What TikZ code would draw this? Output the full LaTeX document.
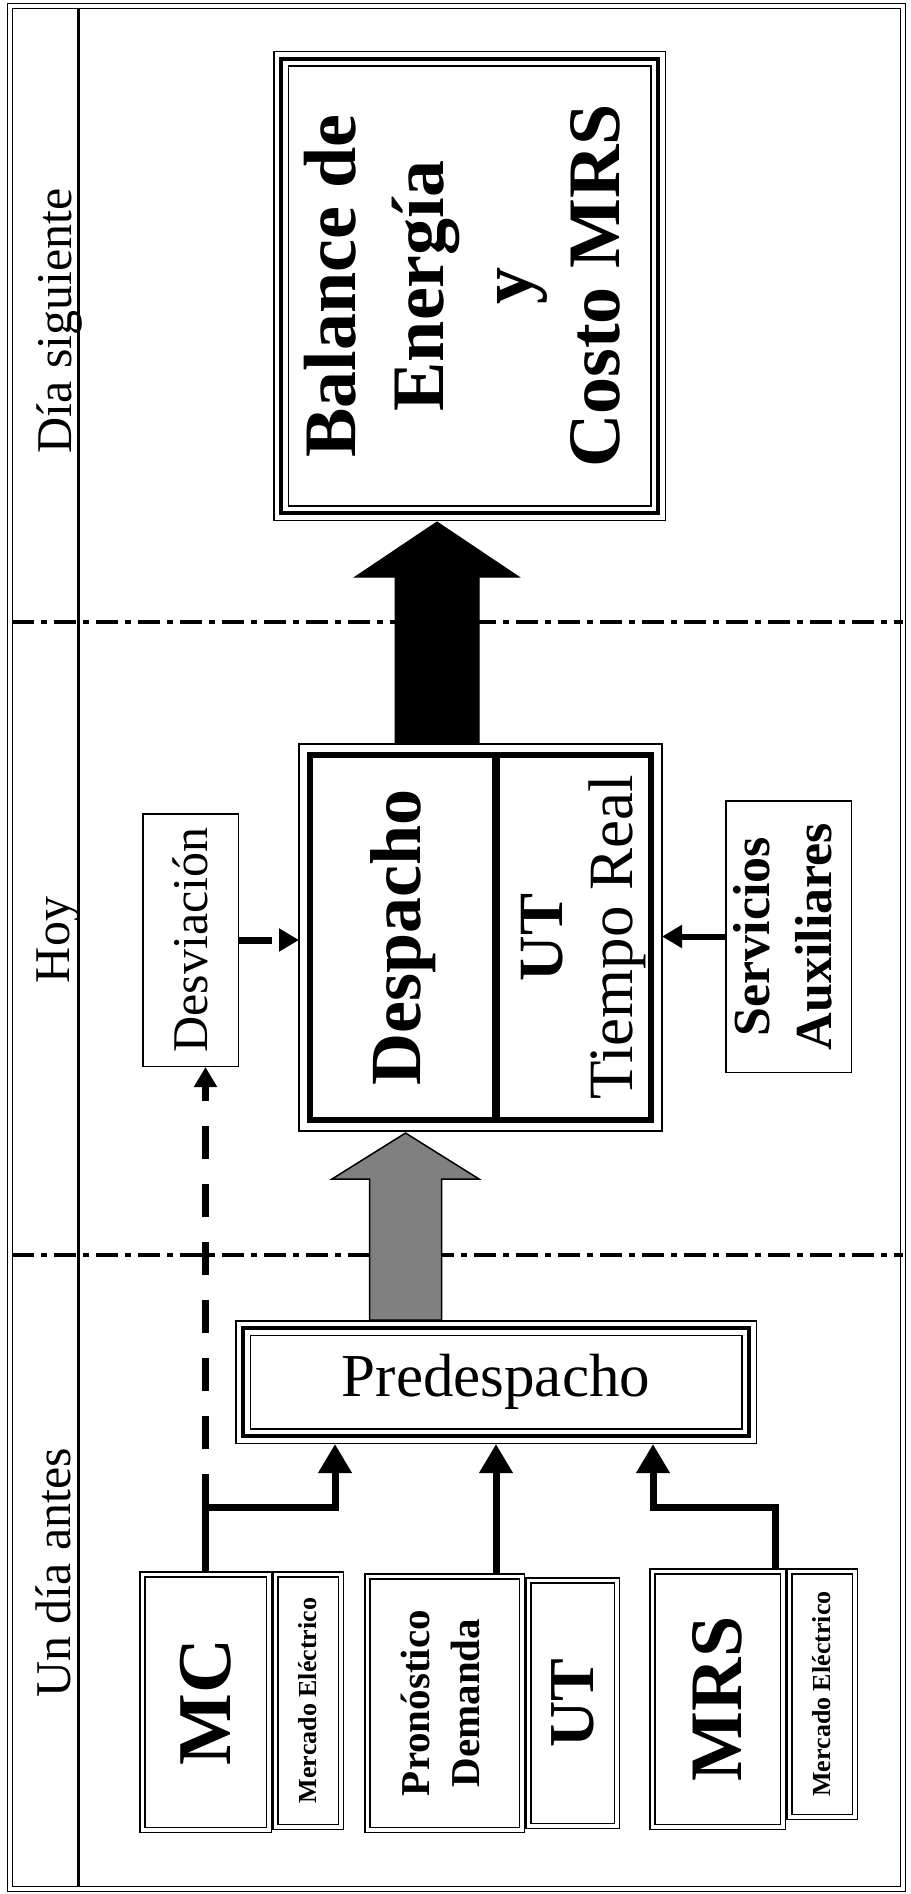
\documentclass[tikz,border=0pt]{standalone}
\usepackage{fontspec}
\setmainfont{Liberation Serif}
\usepackage{graphicx}
\usetikzlibrary{arrows.meta,calc}

\newcommand{\fsz}[2]{\fontsize{#1}{#2}\selectfont}

\begin{document}
\begin{tikzpicture}[x=1pt,y=-1pt,
  every node/.style={inner sep=0pt,align=center},
  tribox/.style={draw,line width=4.5pt,outer sep=8pt,
    preaction={draw,line width=1.5pt,double,double distance=13pt}},
  dbox/.style={draw,line width=1.5pt,double,double distance=3.5pt,outer sep=3.25pt},
  thinbox/.style={draw,line width=1.5pt,outer sep=0.75pt},
  conn/.style={line width=7pt,-{Triangle[length=29pt,width=32pt]}},
  sconn/.style={line width=6pt,-{Triangle[length=20pt,width=22pt]}},
  dconn/.style={line width=7pt,dash pattern=on 33pt off 25pt,-{Triangle[length=20pt,width=22pt]}},
  daysep/.style={line width=3.5pt,dash pattern=on 22pt off 7pt on 6pt off 7pt},
  colname/.style={rotate=90,anchor=base,font=\fsz{50}{60}}]
\useasboundingbox (0,0) rectangle (910,1894);

% marco y columnas
\draw[line width=1.5pt,double,double distance=3.5pt] (10,6) rectangle (903,1889);
\draw[line width=3pt] (78,9) -- (78,1887);
\draw[daysep] (12,622) -- (903,622);
\draw[daysep] (12,1255) -- (903,1255);

\node[colname] (ds) at (71,321) {Día siguiente};
\node[colname] (hoy) at (69,940) {Hoy};
\node[colname] (uda) at (70,1573) {Un día antes};

% cajas
\node[tribox,minimum width=377pt,minimum height=454pt] (bal) at (469.5,286)
  {\rotatebox{90}{\fsz{74}{88}\bfseries\begin{tabular}{@{}c@{}}Balance de\\Energía\\y\\Costo MRS\end{tabular}}};

\node[draw,line width=6pt,outer sep=11pt,minimum width=341pt,minimum height=365pt] (desp) at (480.5,937.5) {};
\draw[line width=1.5pt] (desp.north west) rectangle (desp.south east);
\coordinate (dv) at (496,0);
\draw[line width=8pt,shorten <=11pt,shorten >=11pt] (desp.north -| dv) -- (desp.south -| dv);
\node (despT) at (403,937.5) {\rotatebox{90}{\fsz{72}{84}\bfseries Despacho}};
\node (utT) at (583,937.5) {\rotatebox{90}{\fsz{63}{70}\begin{tabular}{@{}c@{}}\textbf{\fsz{63}{70}UT}\\Tiempo Real\end{tabular}}};

\node[thinbox,minimum width=95.5pt,minimum height=252.5pt] (desv) at (190.5,940)
  {\rotatebox{90}{\fsz{50}{60}Desviación}};
\node[thinbox,minimum width=125.5pt,minimum height=271.5pt] (serv) at (788.5,936.5)
  {\rotatebox{90}{\fsz{52}{62}\bfseries\begin{tabular}{@{}c@{}}Servicios\\Auxiliares\end{tabular}}};

\node[tribox,minimum width=506pt,minimum height=108pt] (pred) at (496,1382) {\fsz{61}{70}Predespacho};

\node[dbox,minimum width=126.5pt,minimum height=255.5pt] (mc) at (205.5,1702)
  {\rotatebox{90}{\fsz{76}{80}\bfseries MC}};
\node[dbox,minimum width=65.5pt,minimum height=252.5pt] (mcme) at (308,1700.5)
  {\rotatebox{90}{\fsz{26}{30}\bfseries Mercado Eléctrico}};
\node[dbox,minimum width=154.5pt,minimum height=253.5pt] (pron) at (444.5,1703)
  {\rotatebox{90}{\fsz{41}{50}\bfseries\begin{tabular}{@{}c@{}}Pronóstico\\Demanda\end{tabular}}};
\node[dbox,minimum width=88.5pt,minimum height=245.5pt] (ut) at (572.5,1703)
  {\rotatebox{90}{\fsz{64}{70}\bfseries UT}};
\node[dbox,minimum width=130.5pt,minimum height=255.5pt] (mrs) at (717.5,1699)
  {\rotatebox{90}{\fsz{74}{80}\bfseries MRS}};
\node[dbox,minimum width=65.5pt,minimum height=245.5pt] (mrsme) at (822,1694)
  {\rotatebox{90}{\fsz{26}{30}\bfseries Mercado Eléctrico}};

% flechas gruesas
\coordinate (bk) at (437,0);
\filldraw[fill=black,line width=1pt] (desp.north -| bk) ++(-42,0) -- ++(0,-167) -- ++(-40,0)
  -- ++(82,-55) -- ++(82,55) -- ++(-40,0) -- ++(0,167) -- cycle;
\coordinate (gr) at (405.5,0);
\filldraw[fill=black!50,line width=1.5pt] (pred.north -| gr) ++(-36,0) -- ++(0,-141) -- ++(-37.5,0)
  -- ++(73.5,-46) -- ++(73.5,46) -- ++(-37.5,0) -- ++(0,141) -- cycle;

% conexiones
\coordinate (jA) at (335,1507);
\coordinate (jB) at (496,1507);
\coordinate (jC) at (653,1507);
\coordinate (sC) at (775,1507);
\draw[conn] (mc.north) |- (jA) -- (jA |- pred.south);
\draw[conn] (jB |- pron.north) -- (jB |- pred.south);
\draw[conn] (sC |- mrs.north) -- (sC) -- (jC) -- (jC |- pred.south);
\draw[dconn] (mc.north |- jA) -- (mc.north |- desv.south);
\draw[dconn] (desv.east) -- (desv.east -| desp.west);
\draw[sconn] (serv.west) -- (serv.west -| desp.east);
\end{tikzpicture}
\end{document}
